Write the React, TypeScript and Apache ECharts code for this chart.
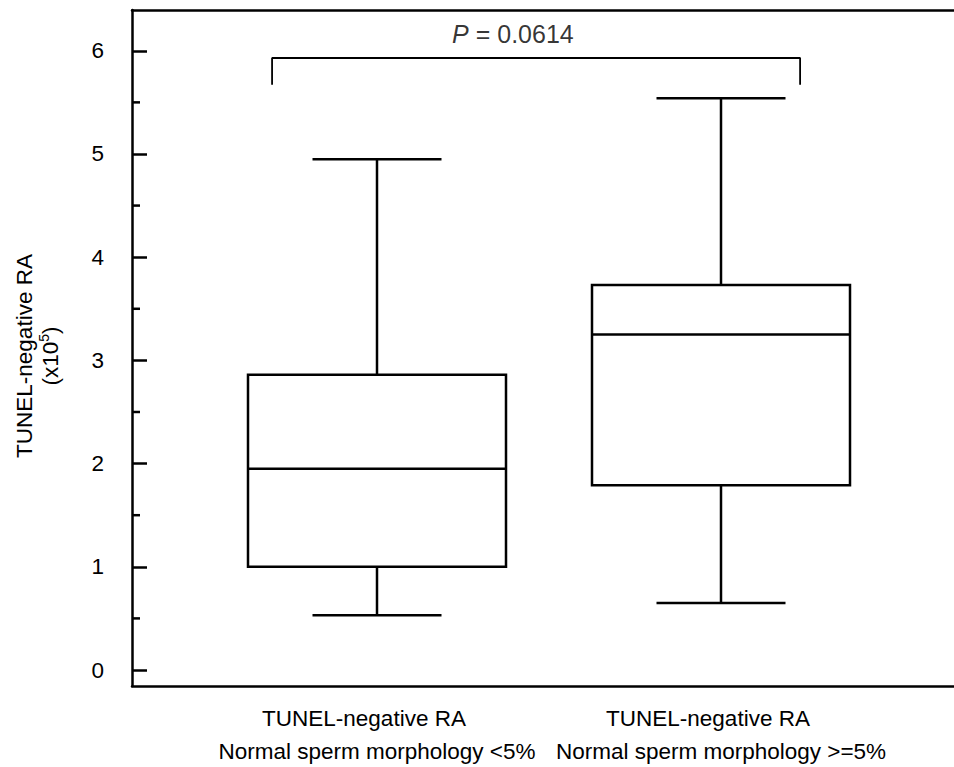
import React, { useEffect, useRef } from "react";
import * as echarts from "echarts";

const GROUP_LINE1 = ["TUNEL-negative RA", "TUNEL-negative RA"];
const GROUP_LINE2 = ["Normal sperm morphology <5%", "Normal sperm morphology >=5%"];
// box statistics per group
const BOX_LOW = [0.53, 0.65];
const BOX_Q1 = [1.0, 1.79];
const BOX_MEDIAN = [1.95, 3.25];
const BOX_Q3 = [2.86, 3.73];
const BOX_HIGH = [4.95, 5.54];
const Y_TICKS = [0, 1, 2, 3, 4, 5, 6];
const Y_MINOR_TICKS = [0.5, 1.5, 2.5, 3.5, 4.5, 5.5];
const BRACKET_X = [0.695, 2.23];
const BRACKET_Y = [5.67, 5.93];
const P_VALUE = "0.0614";
const P_POS = [1.395, 6.16];
const Y_TITLE = "TUNEL-negative RA";

const Y_MIN = -0.155;
const Y_MAX = 6.395;
const X_MIN = 0.2878;
const X_MAX = 2.7297;

const FONT = "'Liberation Sans', Arial, sans-serif";
const FS = 22.5;

export default function App() {
  const ref = useRef<HTMLDivElement>(null);
  useEffect(() => {
    if (!ref.current) return;
    const chart = echarts.init(ref.current, null, { renderer: "svg" });
    const boxData = GROUP_LINE1.map((_, i) => [i, BOX_LOW[i], BOX_Q1[i], BOX_MEDIAN[i], BOX_Q3[i], BOX_HIGH[i]]);
    const lineAxis = (pos: string) => ({
      gridIndex: 0, type: "value", min: X_MIN, max: X_MAX, position: pos,
      axisLine: { show: true, onZero: false, lineStyle: { color: "#000", width: 2.5 } },
      axisTick: { show: false }, axisLabel: { show: false }, splitLine: { show: false },
    });
    const option: any = {
      animation: false,
      backgroundColor: "#ffffff",
      textStyle: { fontFamily: FONT, color: "#000" },
      grid: [
        { left: 132, top: 10, width: 840, height: 676, outerBoundsMode: "none" },
        { left: 205, top: 10, width: 688, height: 676, outerBoundsMode: "none" },
      ],
      xAxis: [
        lineAxis("bottom"),
        lineAxis("top"),
        {
          gridIndex: 1, type: "category", data: GROUP_LINE1.map((_, i) => String(i)),
          axisLine: { show: false, onZero: false }, axisTick: { show: false }, splitLine: { show: false },
          axisLabel: {
            margin: 16,
            interval: 0,
            formatter: (_v: string, i: number) => `{a|${GROUP_LINE1[i]}}\n{b|${GROUP_LINE2[i]}}`,
            rich: {
              a: { fontSize: FS, lineHeight: 33, fontFamily: FONT, color: "#000", padding: [0, 26, 0, 0] },
              b: { fontSize: FS, lineHeight: 33, fontFamily: FONT, color: "#000" },
            },
          },
        },
      ],
      yAxis: [
        {
          gridIndex: 0, type: "value", min: Y_MIN, max: Y_MAX, position: "left",
          axisLine: { show: true, onZero: false, lineStyle: { color: "#000", width: 2.5 } },
          axisTick: { show: true, inside: true, length: 15, customValues: Y_TICKS, lineStyle: { color: "#000", width: 2.5 } },
          axisLabel: { show: true, customValues: Y_TICKS, margin: 28, fontSize: FS, color: "#000", fontFamily: FONT },
          splitLine: { show: false },
        },
        {
          gridIndex: 1, type: "value", min: Y_MIN, max: Y_MAX, show: false,
          splitLine: { show: false },
        },
      ],
      graphic: [
        {
          type: "text",
          x: 37,
          y: 356,
          rotation: Math.PI / 2,
          silent: true,
          style: {
            text: `{a|${Y_TITLE}}\n{a|(x10}{s|5}{a|)}`,
            align: "center",
            verticalAlign: "middle",
            fontFamily: FONT,
            fontSize: FS,
            fill: "#000",
            rich: {
              a: { fontSize: FS, lineHeight: 26, fontFamily: FONT, fill: "#000", color: "#000" },
              s: { fontSize: 14, lineHeight: 26, fontFamily: FONT, fill: "#000", color: "#000", verticalAlign: "top", padding: [0, 0, 6, 0] },
            },
          },
        },
      ],
      series: [
        {
          type: "custom",
          xAxisIndex: 0,
          yAxisIndex: 0,
          data: Y_MINOR_TICKS.map((v) => [X_MIN, v]),
          silent: true,
          clip: false,
          renderItem: (_params: any, api: any) => {
            const p = api.coord([api.value(0), api.value(1)]);
            return {
              type: "line",
              shape: { x1: p[0], y1: p[1], x2: p[0] + 8, y2: p[1] },
              style: { stroke: "#000", lineWidth: 2.5 },
            };
          },
        },
        {
          type: "custom",
          xAxisIndex: 2,
          yAxisIndex: 1,
          data: boxData,
          silent: true,
          encode: { x: 0, y: [1, 2, 3, 4, 5] },
          renderItem: (_params: any, api: any) => {
            const idx = api.value(0);
            const pLow = api.coord([idx, api.value(1)]);
            const pQ1 = api.coord([idx, api.value(2)]);
            const pMed = api.coord([idx, api.value(3)]);
            const pQ3 = api.coord([idx, api.value(4)]);
            const pHigh = api.coord([idx, api.value(5)]);
            const cx = pMed[0];
            const hw = api.size([1, 0])[0] * 0.375;
            const cap = hw / 2;
            const st = { stroke: "#000", lineWidth: 2.5, fill: null };
            const line = (x1: number, y1: number, x2: number, y2: number) => ({
              type: "line", shape: { x1, y1, x2, y2 }, style: st,
            });
            return {
              type: "group",
              children: [
                line(cx, pQ3[1], cx, pHigh[1]),
                line(cx - cap, pHigh[1], cx + cap, pHigh[1]),
                line(cx, pQ1[1], cx, pLow[1]),
                line(cx - cap, pLow[1], cx + cap, pLow[1]),
                {
                  type: "rect",
                  shape: { x: cx - hw, y: pQ3[1], width: 2 * hw, height: pQ1[1] - pQ3[1] },
                  style: { stroke: "#000", lineWidth: 2.5, fill: "#fff" },
                },
                line(cx - hw, pMed[1], cx + hw, pMed[1]),
              ],
            };
          },
        },
        {
          type: "line",
          xAxisIndex: 0,
          yAxisIndex: 0,
          data: [
            [BRACKET_X[0], BRACKET_Y[0]],
            [BRACKET_X[0], BRACKET_Y[1]],
            [BRACKET_X[1], BRACKET_Y[1]],
            [BRACKET_X[1], BRACKET_Y[0]],
          ],
          symbol: "none",
          silent: true,
          lineStyle: { color: "#000", width: 1.8 },
        },
        {
          type: "scatter",
          xAxisIndex: 0,
          yAxisIndex: 0,
          data: [P_POS],
          symbolSize: 0,
          silent: true,
          label: {
            show: true,
            position: "inside",
            formatter: `{i|P} = ${P_VALUE}`,
            fontSize: 25,
            color: "#000",
            fontFamily: FONT,
            rich: {
              i: { fontSize: 25, fontStyle: "italic", color: "#000", fontFamily: FONT },
            },
          },
        },
      ],
    };
    chart.setOption(option);
    return () => chart.dispose();
  }, []);
  return (
    <div
      ref={ref}
      style={{ position: "fixed", left: 0, top: 0, width: 990, height: 767, background: "#fff" }}
    />
  );
}
